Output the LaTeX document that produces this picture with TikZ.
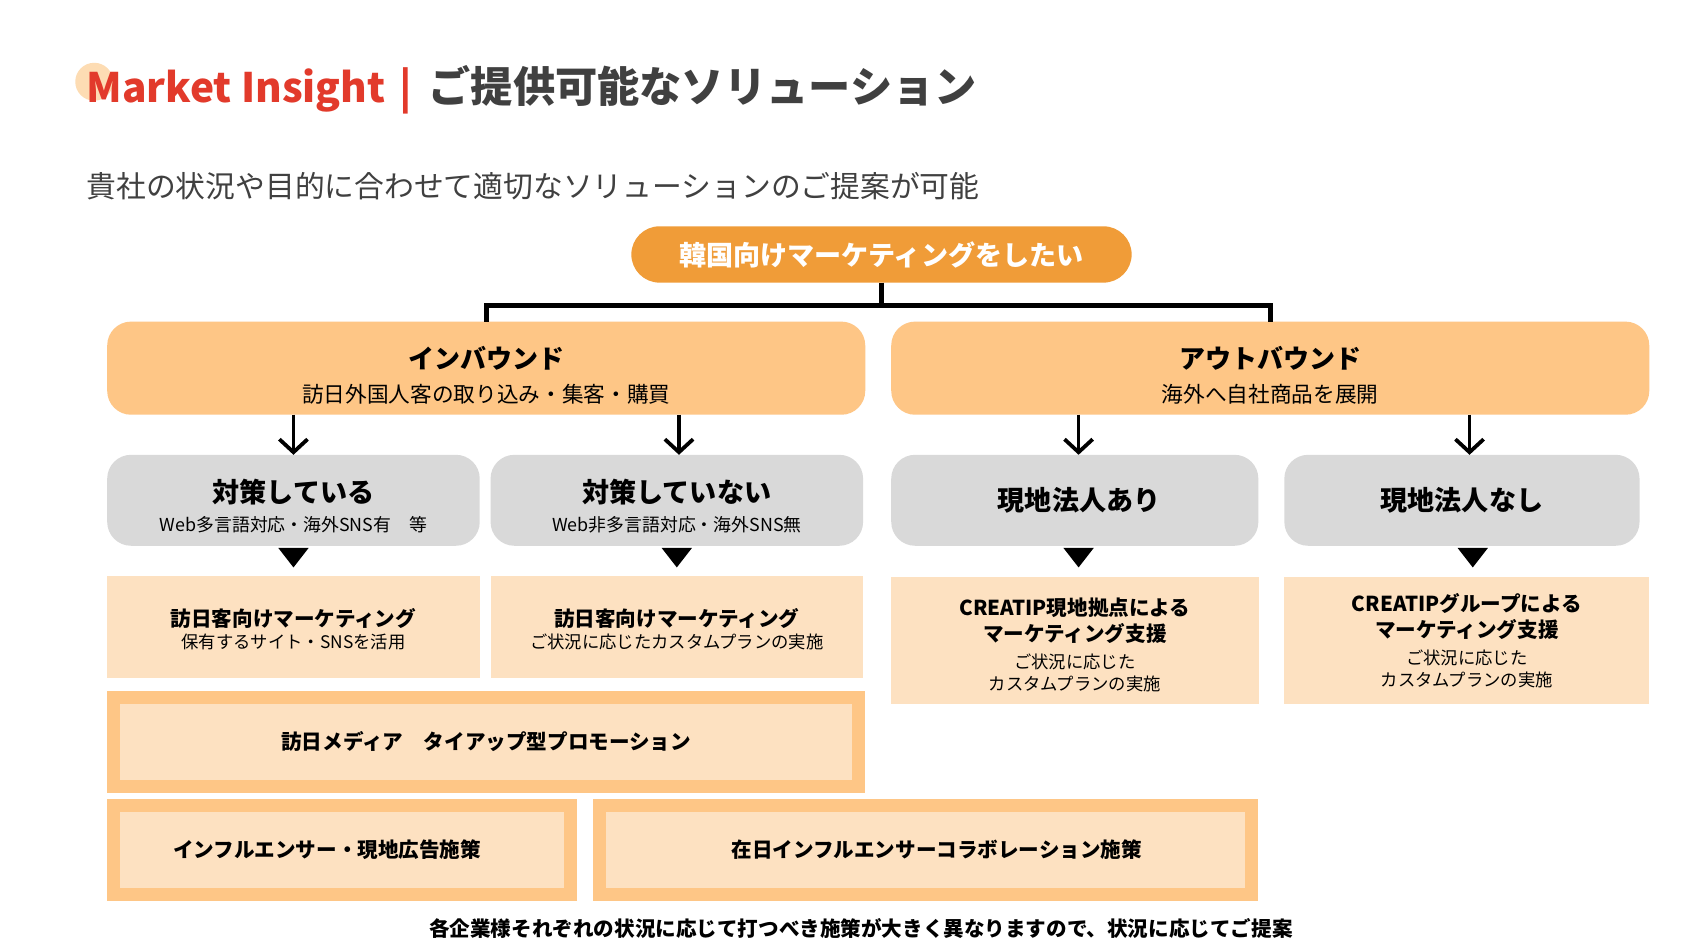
\documentclass[tikz,border=0pt]{standalone}
\usepackage{fontspec}
\setmainfont{Noto Sans CJK JP}
\usepackage{xcolor}
\usepackage{tikz}
\usetikzlibrary{positioning, arrows.meta}

\definecolor{mkorange}{HTML}{F09C38}
\definecolor{mkpeach}{HTML}{FEC686}
\definecolor{mkcream}{HTML}{FDE1C1}
\definecolor{mkgray}{HTML}{D9D9D9}
\definecolor{mkred}{HTML}{E23A2B}
\definecolor{mktext}{HTML}{404040}
\definecolor{mkdot}{HTML}{FDDCB3}

\newcommand{\fsz}[2]{\fontsize{#1}{#2}\selectfont}
\newcommand{\lift}[1]{\rule{0pt}{#1}}

\begin{document}
\begin{tikzpicture}[x=1pt, y=1pt, >={Straight Barb[length=12pt, width=26pt]},
        every node/.style={inner sep=0pt, outer sep=0pt, align=center},
        mainbox/.style={fill=mkpeach, rounded corners=22pt, minimum width=700pt, minimum height=86pt, font=\fsz{20}{31.5}},
        casebox/.style={fill=mkgray, rounded corners=22pt, minimum height=84pt, font=\fsz{16.5}{26.8}},
        planbox/.style={fill=mkcream, minimum height=94pt, font=\fsz{16}{20.9}},
        promobox/.style={fill=mkcream, draw=mkpeach, line width=12pt, outer sep=6pt, minimum height=82pt, font=\fsz{19}{19}\bfseries},
        tree/.style={line width=4.5pt},
        arr/.style={->, line width=3.5pt}]
    % page
    \useasboundingbox (0,0) rectangle (1568,877);
    \fill[white] (0,0) rectangle (1568,877);

    % header
    \fill[mkdot] (87,801.5) circle (17.5);
    \node[anchor=base west, font=\fsz{39}{39}\bfseries] (title) at (80,782) {\textcolor{mkred}{\fsz{37.5}{39}Market Insight\hspace{13pt}|}\hspace{15pt}\textcolor{mktext}{ご提供可能なソリューション}};
    \node[anchor=base west, font=\fsz{27.5}{27.5}, text=mktext] (lead) at (80,694.5) {貴社の状況や目的に合わせて適切なソリューションのご提案が可能};

    % top of the tree
    \node[fill=mkorange, rounded corners=26pt, minimum width=462pt, minimum height=52pt, text=white, font=\fsz{25}{25}\bfseries] (want) at (814,642) {韓国向けマーケティングをしたい};
    \node[mainbox] (inb) at (449,537) {{\fsz{24}{31.5}\bfseries\lift{33pt}インバウンド}\\訪日外国人客の取り込み・集客・購買};
    \node[mainbox, right=24pt of inb] (outb) {{\fsz{24}{31.5}\bfseries\lift{33pt}アウトバウンド}\\海外へ自社商品を展開};

    % cases
    \node[casebox, minimum width=344pt, below right=37pt and 0pt of inb.south west] (g1) {{\fsz{25}{26.8}\bfseries\lift{33pt}対策している}\\Web多言語対応・海外SNS有　等};
    \node[casebox, minimum width=344pt, right=10pt of g1] (g2) {{\fsz{25}{26.8}\bfseries\lift{33pt}対策していない}\\Web非多言語対応・海外SNS無};
    \node[casebox, minimum width=339pt, below right=37pt and 0pt of outb.south west, font=\fsz{25}{25}\bfseries] (g3) {\hspace*{8pt}現地法人あり};
    \node[casebox, minimum width=328pt, right=24pt of g3, font=\fsz{25}{25}\bfseries] (g4) {現地法人なし};

    % plans
    \node[planbox, minimum width=344pt, below=28pt of g1] (l1) {{\fsz{19}{20.9}\bfseries\lift{21pt}訪日客向けマーケティング}\\保有するサイト・SNSを活用};
    \node[planbox, minimum width=344pt, below=28pt of g2] (l2) {{\fsz{19}{20.9}\bfseries\lift{21pt}訪日客向けマーケティング}\\ご状況に応じたカスタムプランの実施};
    \node[planbox, minimum width=340pt, minimum height=117pt, below=29pt of g3, font=\fsz{16}{20}] (l3) {{\fsz{19}{20}\bfseries\lift{24pt}CREATIP現地拠点による}\\[4pt]{\fsz{19}{20}\bfseries マーケティング支援}\\[4.9pt]ご状況に応じた\\カスタムプランの実施};
    \node[planbox, minimum width=337pt, minimum height=117pt, anchor=north east, font=\fsz{16}{20}] (l4) at (outb.east |- l3.north) {{\fsz{19}{20}\bfseries CREATIPグループによる}\\[4pt]{\fsz{19}{20}\bfseries マーケティング支援}\\[4.9pt]ご状況に応じた\\カスタムプランの実施};

    % promotions
    \node[promobox, minimum width=688pt, below right=12pt and 0pt of l1.south west] (media) {訪日メディア　タイアップ型プロモーション};
    \node[promobox, minimum width=422pt, below right=6pt and 0pt of media.south west] (infl) {インフルエンサー・現地広告施策\hspace*{28pt}};
    \node[promobox, minimum width=602pt, right=15pt of infl] (zai) {\hspace*{20pt}在日インフルエンサーコラボレーション施策};

    \node[anchor=base, font=\fsz{19}{19}\bfseries] (note) at (795,12) {各企業様それぞれの状況に応じて打つべき施策が大きく異なりますので、状況に応じてご提案};

    % connectors
    \draw[tree] (want.south) -- ++(0,-21) coordinate (split);
    \draw[tree] (inb.north) |- (split) -| (outb.north);
    \foreach \n/\src/\dx in {g1/inb/0, g2/inb/2, g3/outb/3.5, g4/outb/7} {
        \coordinate (\n-in) at ([xshift=\dx pt]\n.north);
        \draw[arr] (\src.south -| \n-in) -- (\n-in);
    }
    \foreach \n/\dx in {g1/0, g2/0, g3/3.5, g4/10}
        \fill ([xshift=\dx pt, yshift=-2pt]\n.south) ++(-14,0) -- ++(28,0) -- ++(-14,-18) -- cycle;
\end{tikzpicture}
\end{document}
